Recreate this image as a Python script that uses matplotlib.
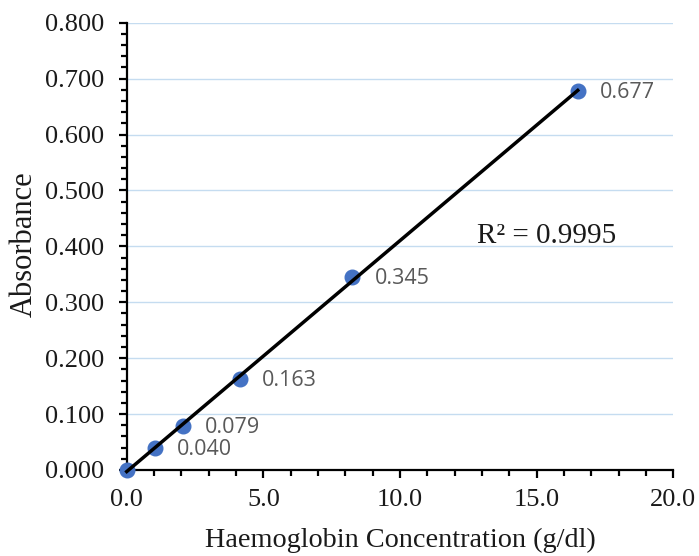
import numpy as np
import matplotlib
matplotlib.use("Agg")
import matplotlib.pyplot as plt
from matplotlib.ticker import MultipleLocator, FormatStrFormatter

# Data
conc = [0.0, 1.03, 2.06, 4.13, 8.25, 16.5]
absorbance = [0.000, 0.040, 0.079, 0.163, 0.345, 0.677]
point_labels = ["", "0.040", "0.079", "0.163", "0.345", "0.677"]
r2_text = "R² = 0.9995"
x_label = "Haemoglobin Concentration (g/dl)"
y_label = "Absorbance"

serif = "Liberation Serif"
txt = "#1a1a1a"

fig = plt.figure(figsize=(6.99, 5.56), dpi=100)
ax = fig.add_axes([0.1813, 0.1547, 0.7821, 0.8045])

# trendline
coef = np.polyfit(conc, absorbance, 1)
xs = np.array([min(conc), max(conc)])
ax.plot(xs, np.polyval(coef, xs), color="black", lw=2.5, zorder=4, clip_on=False)

ax.plot(conc, absorbance, "o", color="#4472C4", ms=10.5, mec="#4472C4", zorder=3, clip_on=False)

for x, y, t in zip(conc, absorbance, point_labels):
    if t:
        ax.annotate(t, (x, y), xytext=(16, -1), textcoords="offset points",
                    ha="left", va="center", fontsize=15.5, color="#595959",
                    family="Open Sans")

ax.text(12.8, 0.419, r2_text, fontsize=21, family=serif, color=txt,
        ha="left", va="center")

ax.set_xlim(0, 20)
ax.set_ylim(0, 0.8)
ax.xaxis.set_major_locator(MultipleLocator(5))
ax.xaxis.set_minor_locator(MultipleLocator(1))
ax.yaxis.set_major_locator(MultipleLocator(0.1))
ax.yaxis.set_minor_locator(MultipleLocator(0.02))
ax.xaxis.set_major_formatter(FormatStrFormatter("%.1f"))
ax.yaxis.set_major_formatter(FormatStrFormatter("%.3f"))

ax.grid(axis="y", which="major", color="#C5DCF0", lw=1.0, zorder=0)
ax.set_axisbelow(True)

for s in ["top", "right"]:
    ax.spines[s].set_visible(False)
for s in ["left", "bottom"]:
    ax.spines[s].set_linewidth(1.6)
    ax.spines[s].set_color("black")

ax.tick_params(axis="both", which="major", direction="out", length=6, width=1.6,
               labelsize=19, colors="black")
ax.tick_params(axis="y", which="major", pad=10)
ax.tick_params(axis="x", which="major", pad=8)
ax.tick_params(axis="both", which="minor", direction="out", length=4, width=1.6)
for lab in ax.get_xticklabels() + ax.get_yticklabels():
    lab.set_family(serif)
    lab.set_color(txt)

ax.set_xlabel(x_label, fontsize=20.3, family=serif, color=txt, labelpad=12)
ax.set_ylabel(y_label, fontsize=22, family=serif, color=txt)
ax.yaxis.set_label_coords(-0.161, 0.504)

fig.savefig("out.png", dpi=100)
